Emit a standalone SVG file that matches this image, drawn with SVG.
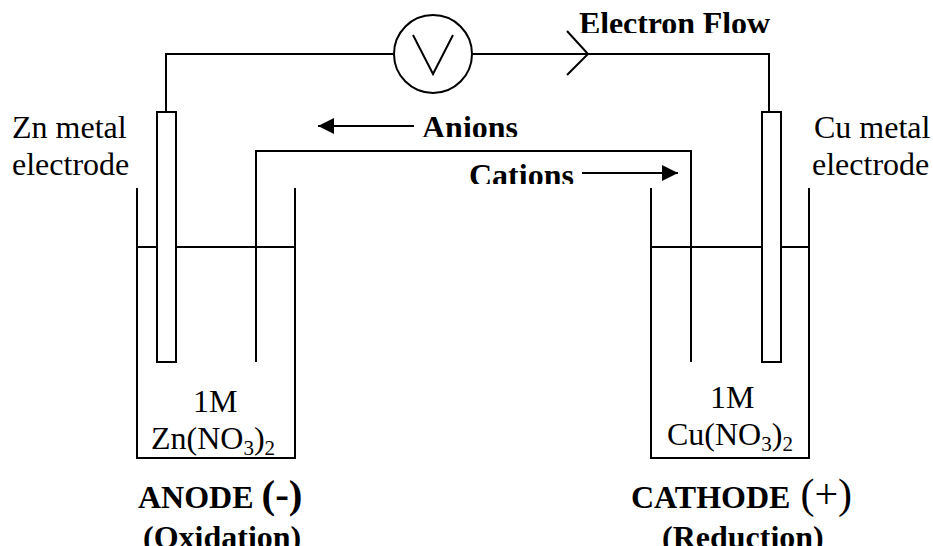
<svg xmlns="http://www.w3.org/2000/svg" width="933" height="546" viewBox="0 0 933 546">
<style>
.l{fill:none;stroke:#000;stroke-width:2}
.e{fill:#fff;stroke:#000;stroke-width:2}
text{font-family:"Liberation Serif","Times New Roman",serif;fill:#000}
.r{font-size:32px}
.b{font-size:32px;font-weight:700}
.s{font-size:21px}
.p{font-size:41px;font-weight:700}
.q{font-size:42px;font-weight:400}
</style>
<defs>
<marker id="ah" markerUnits="userSpaceOnUse" markerWidth="17" markerHeight="16" refX="16" refY="8" orient="auto-start-reverse"><path d="M0 0L16 8L0 16Z" fill="#000"/></marker>
<clipPath id="c1"><rect x="570" y="0" width="210" height="33"/></clipPath>
<clipPath id="c2"><rect x="415" y="100" width="110" height="37"/></clipPath>
<clipPath id="c3"><rect x="460" y="150" width="120" height="34"/></clipPath>
</defs>
<g id="connectors">
<path id="wire" class="l" d="M166 112V54H394M472 54H769V112"/>
<path id="flow-arrow" class="l" d="M567 31L588 54L567 75"/>
<path id="anion-arrow" class="l" d="M414 126H318" marker-end="url(#ah)"/>
<path id="cation-arrow" class="l" d="M582 173H678" marker-end="url(#ah)"/>
</g>
<g id="voltmeter"><circle class="l" cx="433" cy="54" r="39"/><path class="l" d="M413 35L433 74L453 35"/></g>
<g id="left-beaker"><path class="l" d="M137 188V458H295V188M137 247H295"/></g>
<g id="right-beaker"><path class="l" d="M651 188V458H809V188M651 247H809"/></g>
<g id="salt-bridge"><path class="l" d="M256 362V151H691V362"/></g>
<g id="zn-electrode"><rect class="e" x="157" y="112" width="19" height="250"/></g>
<g id="cu-electrode"><rect class="e" x="762" y="112" width="19" height="250"/></g>
<g id="labels">
<text class="b" x="579" y="34" clip-path="url(#c1)" textLength="191">Electron Flow</text>
<text class="b" x="422" y="138" clip-path="url(#c2)">Anions</text>
<text class="b" x="469" y="186" clip-path="url(#c3)">Cations</text>
<text class="r" x="12" y="138">Zn metal</text>
<text class="r" x="12" y="175">electrode</text>
<text class="r" x="814" y="138">Cu metal</text>
<text class="r" x="812" y="175">electrode</text>
<text class="r" x="193" y="412">1M</text>
<text class="r" x="151" y="449">Zn(NO<tspan class="s" dy="6">3</tspan><tspan dy="-6">)</tspan><tspan class="s" dy="6">2</tspan></text>
<text class="r" x="710" y="408">1M</text>
<text class="r" x="667" y="445">Cu(NO<tspan class="s" dy="6">3</tspan><tspan dy="-6">)</tspan><tspan class="s" dy="6">2</tspan></text>
<text class="b" x="138" y="508">ANODE <tspan class="p">(-)</tspan></text>
<text class="b" x="143" y="548">(Oxidation)</text>
<text class="b" x="631" y="508">CATHODE <tspan class="q" dx="2">(+)</tspan></text>
<text class="b" x="662" y="548">(Reduction)</text>
</g>
</svg>
